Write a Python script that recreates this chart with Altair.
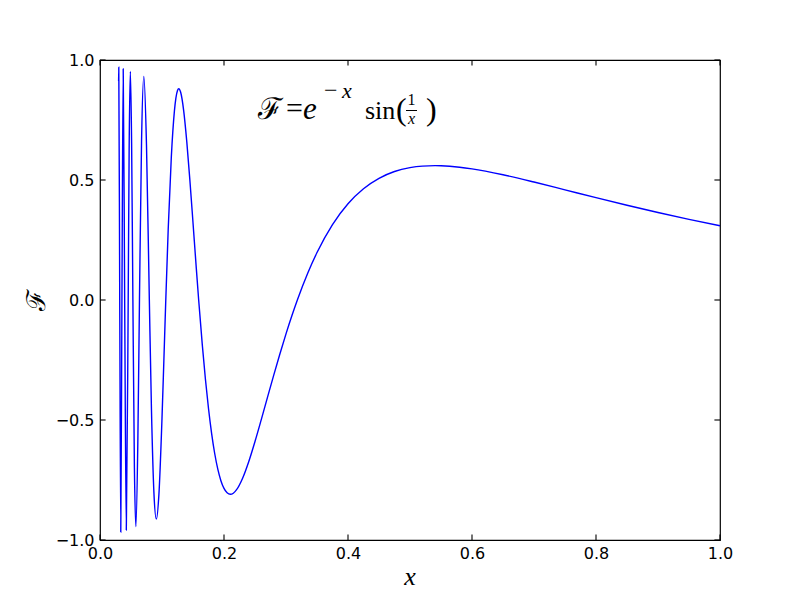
import altair as alt
import pandas as pd

# Curve values (x, F)
x_vals = [0.03, 0.03031, 0.03183, 0.03351, 0.03537, 0.03745, 0.03979, 0.04244, 0.04547, 0.047,
          0.04896, 0.051, 0.05305, 0.0555, 0.05786, 0.061, 0.06366, 0.067, 0.07071, 0.075,
          0.07958, 0.083, 0.087, 0.09088, 0.095, 0.10, 0.103, 0.1061, 0.11, 0.115,
          0.12, 0.125, 0.12706, 0.13, 0.135, 0.14, 0.145, 0.15, 0.155, 0.15915,
          0.165, 0.17, 0.175, 0.18, 0.185, 0.19, 0.195, 0.20, 0.205, 0.21026,
          0.215, 0.22, 0.23, 0.24, 0.25, 0.26, 0.27, 0.28, 0.29, 0.30,
          0.31, 0.31831, 0.335, 0.35, 0.375, 0.40, 0.425, 0.45, 0.475, 0.50,
          0.52, 0.54054, 0.55, 0.58, 0.60, 0.65, 0.70, 0.75, 0.80, 0.85,
          0.90, 0.95, 1.00]
f_vals = [0.9127, 0.9701, 0.0, -0.9670, 0.0, 0.9632, 0.0, -0.9584, 0.0, 0.6253,
          0.9522, 0.6535, 0.0, -0.6990, -0.9438, -0.5956, 0.0, 0.6591, 0.9317, 0.6439,
          0.0, -0.4559, -0.8048, -0.9131, -0.8111, -0.4923, -0.2527, 0.0, 0.2936, 0.5938,
          0.7868, 0.8731, 0.8805, 0.8666, 0.7883, 0.6587, 0.4979, 0.3220, 0.1436, 0.0,
          -0.1872, -0.3292, -0.4522, -0.5555, -0.6396, -0.7048, -0.7528, -0.7851, -0.8035, -0.8096,
          -0.8050, -0.7914, -0.7424, -0.6726, -0.5894, -0.4993, -0.4069, -0.3150, -0.2259, -0.1412,
          -0.0617, 0.0, 0.1115, 0.1978, 0.3143, 0.4012, 0.4636, 0.5069, 0.5353, 0.5515,
          0.5580, 0.5599, 0.5594, 0.5533, 0.5463, 0.5218, 0.4916, 0.4591, 0.4264, 0.3946,
          0.3644, 0.3360, 0.3096]

x_ticks = [0.0, 0.2, 0.4, 0.6, 0.8, 1.0]
y_ticks = [-1.0, -0.5, 0.0, 0.5, 1.0]

W, H = 620, 480
TICK = 5.6

df = pd.DataFrame({"x": x_vals, "y": f_vals})
xt = pd.DataFrame({"x": x_ticks})
yt = pd.DataFrame({"y": y_ticks})
one = pd.DataFrame({"k": [0]})

xscale = alt.Scale(domain=[0, 1], nice=False, zero=False)
yscale = alt.Scale(domain=[-1, 1], nice=False, zero=False)
lab = dict(labelFont="DejaVu Sans", labelFontSize=16, labelColor="black", labelFlush=False,
           domain=False, ticks=False, tickSize=0, grid=False, title="")
xaxis = alt.Axis(values=x_ticks, format=".1f", labelPadding=5, **lab)
yaxis = alt.Axis(values=y_ticks, format=".1f", labelPadding=6, **lab)

X = alt.X("x:Q", scale=xscale, axis=xaxis)
Y = alt.Y("y:Q", scale=yscale, axis=yaxis)

line = alt.Chart(df).mark_line(color="#0000ff", strokeWidth=1.4, interpolate="monotone").encode(x=X, y=Y)

tick_style = dict(color="black", strokeWidth=1.1)
bottom = alt.Chart(xt).mark_rule(**tick_style).encode(x=X, y=alt.value(H), y2=alt.value(H - TICK))
top = alt.Chart(xt).mark_rule(**tick_style).encode(x=X, y=alt.value(0), y2=alt.value(TICK))
left = alt.Chart(yt).mark_rule(**tick_style).encode(y=Y, x=alt.value(0), x2=alt.value(TICK))
right = alt.Chart(yt).mark_rule(**tick_style).encode(y=Y, x=alt.value(W), x2=alt.value(W - TICK))


def txt(s, x, y, size, font="Liberation Serif", style="normal", align="left", angle=0, baseline="alphabetic"):
    kw = dict(text=s, fontSize=size, font=font, fontStyle=style, align=align,
              baseline=baseline, color="black")
    if angle:
        kw["angle"] = angle
    return alt.Chart(one).mark_text(**kw).encode(x=alt.value(x), y=alt.value(y))


annots = [
    txt("ℱ", 158, 59, 30, font="DejaVu Serif"),
    txt("=", 186, 58, 30),
    txt("e", 203, 59, 31, style="italic"),
    txt("−", 224, 38, 24),
    txt("x", 242, 38, 22, style="italic"),
    txt("sin", 265, 59, 26),
    txt("(", 296, 60, 32),
    txt("1", 311.5, 45, 16, align="center"),
    txt("x", 311.5, 64, 16, style="italic", align="center"),
    txt(")", 326, 60, 32),
    txt("x", 310, 525, 26, style="italic", align="center"),
    txt("ℱ", -63, 240, 26, font="DejaVu Serif", align="center", angle=270, baseline="middle"),
]
bar = alt.Chart(one).mark_rule(color="black", strokeWidth=1).encode(
    x=alt.value(306), x2=alt.value(317), y=alt.value(50.5))

chart = alt.layer(line, bottom, top, left, right, bar, *annots).properties(
    width=W, height=H,
    autosize=alt.AutoSizeParams(type="none"),
    padding={"left": 92, "top": 52, "right": 72, "bottom": 52},
).configure(background="white").configure_view(stroke="black", strokeWidth=1.2)

chart.save("out.html", embed_options={"renderer": "svg", "actions": False})
